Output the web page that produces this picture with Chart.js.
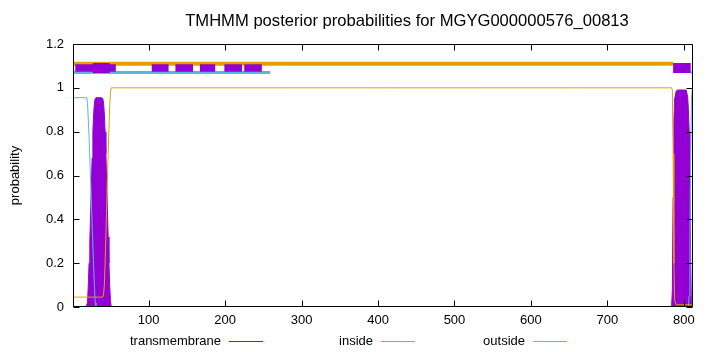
<!DOCTYPE html>
<html>
<head>
<meta charset="utf-8">
<script src="https://cdn.jsdelivr.net/npm/chart.js@4.4.1/dist/chart.umd.min.js"></script>
<style>
  html, body { margin: 0; padding: 0; background: #fff; }
  #chart { display: block; }
</style>
</head>
<body>
<canvas id="chart" width="720" height="352"></canvas>
<script>
const chartTitle = 'TMHMM posterior probabilities for MGYG000000576_00813';
const yAxisTitle = 'probability';
const residueRange = [1, 812];
const xTicks = [100, 200, 300, 400, 500, 600, 700, 800];
const yTicks = [0, 0.2, 0.4, 0.6, 0.8, 1, 1.2];

// posterior curves
const tmResidue = [1, 18, 20, 21, 22, 23, 24, 25, 26, 27, 28, 29, 30, 31, 38, 40, 41, 42, 43, 44, 45, 46, 47, 48, 49, 50, 51,
  784, 785, 786, 787, 788, 790, 792, 803, 805, 806, 807, 808, 809, 810, 812];
const tmProb = [0, 0, 0.02, 0.1, 0.2, 0.3, 0.42, 0.55, 0.68, 0.8, 0.88, 0.93, 0.95, 0.955, 0.955, 0.95, 0.93, 0.88, 0.8, 0.7, 0.58, 0.45, 0.32, 0.2, 0.1, 0.03, 0,
  0, 0.08, 0.5, 0.85, 0.95, 0.985, 0.99, 0.99, 0.96, 0.9, 0.8, 0.55, 0.2, 0, 0];

const insideResidue = [1, 19, 20, 22, 24, 26, 28, 30, 31, 806, 807, 808, 809, 810, 811, 812];
const insideProb = [0.955, 0.955, 0.93, 0.78, 0.58, 0.38, 0.18, 0.02, 0, 0, 0.05, 0.35, 0.7, 0.95, 0.99, 0.99];

const outsideResidue = [1, 40, 41, 42, 43, 45, 47, 49, 50, 51, 784, 785, 786, 787, 788, 790, 812];
const outsideProb = [0.045, 0.045, 0.06, 0.1, 0.2, 0.45, 0.7, 0.92, 0.98, 1, 1, 0.99, 0.7, 0.2, 0.03, 0.01, 0.01];

// predicted topology bars along the top
const outsideBarLevel = 1.11;
const insideBarLevel = 1.07;
const tmBarLevel = 1.09;
const outsideBarSegments = [[1, 786]];
const insideBarSegments = [[1, 259], [809, 812]];
const tmBarSegments = [[4, 57], [104, 126], [135, 158], [167, 187], [199, 222], [225, 248]];
const tmCoreSegments = [[27, 49], [786, 809]];

const TM_COLOR = '#9400d3';
const INSIDE_COLOR = '#56b4e9';
const OUTSIDE_COLOR = '#e69f00';
const FONT_FAMILY = '"Liberation Sans", Arial, sans-serif';

function toPoints(xs, ys) {
  return xs.map((x, i) => ({ x, y: ys[i] }));
}

function segmentPoints(segments, level) {
  const points = [];
  segments.forEach(([start, end], i) => {
    if (i > 0) {
      points.push({ x: (segments[i - 1][1] + start) / 2, y: null });
    }
    points.push({ x: start, y: level }, { x: end, y: level });
  });
  return points;
}

function barDataset(segments, level, color, width, order) {
  return {
    data: segmentPoints(segments, level),
    borderColor: color,
    borderWidth: width,
    borderCapStyle: 'butt',
    pointRadius: 0,
    spanGaps: false,
    fill: false,
    order
  };
}

const framePlugin = {
  id: 'gnuplotFrame',
  afterDatasetsDraw(chart) {
    const { ctx, chartArea: area, scales } = chart;
    const left = Math.round(area.left) + 0.5;
    const right = Math.round(area.right) - 0.5;
    const top = Math.round(area.top) + 0.5;
    const bottom = Math.round(area.bottom) - 0.5;
    const tickLength = 6;

    ctx.save();
    ctx.strokeStyle = '#000';
    ctx.lineWidth = 1;
    ctx.beginPath();
    ctx.rect(left, top, right - left, bottom - top);

    scales.x.ticks.forEach((tick) => {
      const px = Math.round(scales.x.getPixelForValue(tick.value)) + 0.5;
      ctx.moveTo(px, bottom);
      ctx.lineTo(px, bottom - tickLength);
      ctx.moveTo(px, top);
      ctx.lineTo(px, top + tickLength);
    });
    scales.y.ticks.forEach((tick) => {
      const py = Math.round(scales.y.getPixelForValue(tick.value)) + 0.5;
      ctx.moveTo(left, py);
      ctx.lineTo(left + tickLength, py);
      ctx.moveTo(right, py);
      ctx.lineTo(right - tickLength, py);
    });
    ctx.stroke();
    ctx.restore();
  }
};

const titleLegendPlugin = {
  id: 'gnuplotTitleLegend',
  afterDraw(chart) {
    const { ctx } = chart;
    ctx.save();
    ctx.fillStyle = '#000';
    ctx.textBaseline = 'middle';

    ctx.font = `16.6px ${FONT_FAMILY}`;
    ctx.textAlign = 'center';
    ctx.fillText(chartTitle, 407, 21);

    ctx.font = `13px ${FONT_FAMILY}`;
    ctx.textAlign = 'right';
    chart.data.datasets
      .filter((dataset) => dataset.legendSlot !== undefined)
      .forEach((dataset) => {
        const sampleX = 229 + dataset.legendSlot * 152;
        const y = 341;
        ctx.fillText(dataset.label, sampleX - 8, y);
        ctx.strokeStyle = dataset.borderColor;
        ctx.lineWidth = 1;
        ctx.beginPath();
        ctx.moveTo(sampleX, y + 0.5);
        ctx.lineTo(sampleX + 34, y + 0.5);
        ctx.stroke();
      });
    ctx.restore();
  }
};

new Chart(document.getElementById('chart'), {
  type: 'line',
  data: {
    datasets: [
      {
        label: 'transmembrane',
        legendSlot: 0,
        data: toPoints(tmResidue, tmProb),
        borderColor: TM_COLOR,
        backgroundColor: TM_COLOR,
        borderWidth: 1,
        pointRadius: 0,
        tension: 0,
        fill: 'origin',
        order: 7
      },
      {
        label: 'inside',
        legendSlot: 1,
        data: toPoints(insideResidue, insideProb),
        borderColor: INSIDE_COLOR,
        borderWidth: 1,
        pointRadius: 0,
        tension: 0,
        fill: false,
        order: 6
      },
      {
        label: 'outside',
        legendSlot: 2,
        data: toPoints(outsideResidue, outsideProb),
        borderColor: OUTSIDE_COLOR,
        borderWidth: 1,
        pointRadius: 0,
        tension: 0,
        fill: false,
        order: 5
      },
      barDataset(insideBarSegments, insideBarLevel, INSIDE_COLOR, 3, 4),
      barDataset(outsideBarSegments, outsideBarLevel, OUTSIDE_COLOR, 4, 3),
      barDataset(tmBarSegments, tmBarLevel, TM_COLOR, 7.5, 2),
      barDataset(tmCoreSegments, tmBarLevel, TM_COLOR, 10, 1)
    ]
  },
  options: {
    responsive: false,
    animation: false,
    events: [],
    devicePixelRatio: 1,
    layout: {
      padding: { top: 44, right: 27, bottom: 22, left: 0 }
    },
    plugins: {
      legend: { display: false },
      title: { display: false },
      tooltip: { enabled: false }
    },
    scales: {
      x: {
        type: 'linear',
        min: residueRange[0],
        max: residueRange[1],
        afterBuildTicks: (scale) => {
          scale.ticks = xTicks.map((value) => ({ value }));
        },
        afterFit: (scale) => {
          scale.height = 23;
        },
        grid: { display: false, drawTicks: false },
        border: { display: false },
        ticks: {
          color: '#000',
          font: { family: FONT_FAMILY, size: 13 },
          padding: 6,
          maxRotation: 0,
          autoSkip: false
        }
      },
      y: {
        type: 'linear',
        min: 0,
        max: 1.2,
        afterBuildTicks: (scale) => {
          scale.ticks = yTicks.map((value) => ({ value }));
        },
        afterFit: (scale) => {
          scale.width = 73;
        },
        grid: { display: false, drawTicks: false },
        border: { display: false },
        title: {
          display: true,
          text: yAxisTitle,
          color: '#000',
          font: { family: FONT_FAMILY, size: 13 },
          padding: { top: 8, bottom: 0 }
        },
        ticks: {
          color: '#000',
          font: { family: FONT_FAMILY, size: 13 },
          padding: 9,
          callback: (value) => String(value)
        }
      }
    }
  },
  plugins: [framePlugin, titleLegendPlugin]
});
</script>
</body>
</html>
